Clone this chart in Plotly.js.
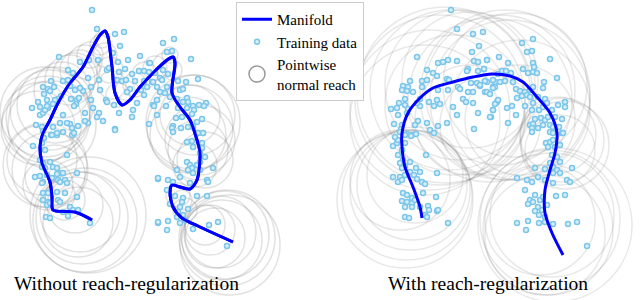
<!DOCTYPE html>
<html>
<head>
<meta charset="utf-8">
<script src="https://cdn.plot.ly/plotly-3.0.1.min.js"></script>
<style>html,body{margin:0;padding:0;background:#fff;}#chart{width:640px;height:300px;}</style>
</head>
<body>
<div id="chart"></div>
<script>
// ---- data (image-space units: x right, y down) ----
const leftManifold = [[92,220],[75,212],[53,210],[52,197],[50,182],[42,163],[40,147],[43,133],[50,120],[58,103],[70,83],[83,67],[93,47],[100,35],[105,31],[108,37],[112,67],[115,93],[122,105],[130,100],[140,87],[153,73],[167,60],[173,57],[175,63],[172,93],[180,107],[190,120],[197,140],[200,153],[197,180],[190,189],[180,187],[172,185],[170,193],[173,207],[182,218],[200,227],[233,242]];

const rightManifold = [[422,218],[420,207],[413,187],[405,167],[402,147],[402,133],[408,113],[420,98],[433,88],[453,82],[473,77],[492,74],[510,76],[523,82],[537,97],[550,113],[557,133],[555,153],[550,170],[545,190],[545,213],[552,233],[563,255]];

const leftTrain = [[92,10],[97,29],[115,34],[124,32],[120,46],[59,57],[113,53],[118,62],[128,60],[140,56],[149,63],[80,62],[98,60],[89,60],[68,70],[73,73],[63,81],[68,80],[51,81],[43,87],[48,89],[54,87],[50,91],[44,94],[61,96],[75,90],[83,91],[88,78],[91,87],[99,80],[100,90],[107,70],[109,68],[119,72],[125,69],[117,80],[122,81],[126,80],[135,81],[132,74],[139,71],[144,71],[149,72],[155,73],[144,81],[152,82],[147,87],[141,90],[130,89],[127,92],[144,95],[157,100],[153,105],[137,103],[133,110],[119,113],[132,117],[149,124],[114,105],[106,100],[107,102],[93,108],[99,113],[97,117],[85,113],[88,123],[78,126],[115,129],[91,100],[77,100],[76,104],[74,106],[71,99],[79,98],[70,124],[67,123],[72,128],[60,123],[58,99],[55,100],[53,104],[48,108],[47,100],[38,102],[40,107],[32,108],[40,115],[43,113],[45,110],[47,106],[36,125],[42,127],[43,131],[53,127],[51,135],[63,115],[63,132],[57,135],[72,135],[85,121],[103,121],[80,88],[70,86],
[163,43],[174,39],[167,52],[172,51],[191,59],[150,63],[163,70],[168,74],[160,78],[153,82],[162,80],[157,87],[167,87],[178,81],[186,82],[198,79],[180,90],[183,89],[160,92],[165,93],[157,100],[170,97],[177,99],[187,98],[188,102],[183,102],[166,106],[154,106],[193,106],[199,105],[206,103],[204,106],[194,110],[187,108],[178,108],[157,115],[176,118],[182,117],[192,114],[202,119],[173,126],[172,128],[181,128],[203,133],[197,122],[193,127],[188,127],[198,133],
[52,135],[57,133],[74,133],[115,130],[33,146],[42,143],[44,138],[45,150],[67,155],[40,160],[43,163],[50,162],[42,167],[45,168],[53,167],[57,168],[60,173],[63,173],[57,174],[35,177],[40,176],[47,175],[52,178],[43,182],[42,183],[58,180],[60,182],[65,180],[67,183],[77,173],[43,193],[48,193],[57,192],[65,193],[43,200],[48,202],[47,205],[50,203],[58,200],[60,202],[77,197],[70,207],[73,210],[78,210],[63,212],[68,216],[46,217],[50,218],[90,223],[158,179],[158,223],
[173,132],[187,142],[192,141],[202,143],[203,133],[198,133],[193,147],[202,148],[200,153],[205,157],[187,162],[190,165],[192,168],[188,170],[197,165],[200,162],[200,170],[193,173],[177,170],[213,168],[158,178],[168,180],[173,182],[180,177],[207,180],[208,182],[190,183],[167,190],[175,196],[183,198],[182,202],[197,196],[207,196],[170,204],[180,207],[178,212],[188,209],[183,215],[177,217],[158,222],[168,221],[180,223],[185,220],[209,225],[218,222],[167,230],[193,229],[227,246]];

const rightTrain = [[451,10],[457,29],[473,34],[483,32],[479,46],[417,57],[438,63],[443,62],[448,60],[457,61],[472,52],[474,61],[478,62],[487,60],[468,69],[467,71],[478,71],[484,69],[427,70],[433,73],[437,76],[447,79],[449,80],[410,81],[422,81],[427,80],[422,87],[403,86],[408,87],[407,91],[402,90],[413,92],[458,87],[460,89],[471,83],[477,83],[480,86],[487,82],[495,82],[493,87],[468,92],[473,92],[485,92],[448,90],[438,90],[420,99],[405,99],[429,102],[437,100],[440,104],[434,106],[420,106],[417,103],[405,105],[399,103],[397,108],[391,109],[408,109],[407,113],[398,115],[453,107],[457,115],[463,99],[466,102],[473,103],[478,113],[491,117],[493,110],[497,102],[447,123],[438,126],[427,123],[418,121],[415,125],[430,130],[394,124],[402,125],[401,129],[407,134],[412,135],[474,129],
[522,43],[533,39],[527,52],[532,51],[499,57],[550,59],[487,60],[508,63],[484,69],[502,71],[506,71],[511,73],[523,69],[528,73],[533,72],[537,73],[533,63],[534,67],[498,74],[493,80],[500,82],[505,81],[513,82],[485,81],[480,85],[495,87],[493,88],[516,89],[520,91],[525,92],[530,90],[533,87],[543,88],[544,82],[557,78],[487,92],[490,94],[522,96],[527,95],[530,97],[517,98],[498,100],[538,97],[545,99],[547,103],[533,103],[525,106],[512,106],[495,104],[493,110],[507,108],[532,110],[539,110],[543,107],[552,110],[558,105],[565,102],[565,107],[555,117],[562,119],[535,119],[541,118],[545,120],[548,117],[490,117],[516,115],[530,125],[533,124],[538,128],[532,128],[543,125],[550,125],[553,127],[559,127],[550,132],[554,132],[562,133],[508,123],
[393,146],[397,143],[398,140],[405,143],[402,150],[398,155],[403,160],[400,163],[405,166],[402,168],[410,162],[416,168],[420,172],[410,172],[414,175],[405,175],[400,177],[393,177],[398,182],[402,180],[417,179],[422,182],[425,184],[437,173],[426,155],[411,136],[416,134],[434,133],[400,132],[405,135],[395,137],[403,193],[407,195],[412,198],[402,201],[407,202],[412,203],[415,200],[423,193],[436,197],[405,207],[412,207],[420,207],[428,206],[429,210],[437,211],[438,210],[425,215],[427,217],[405,217],[409,218],[448,223],
[532,132],[553,133],[563,133],[546,143],[550,142],[553,140],[548,147],[555,147],[560,145],[552,155],[557,157],[560,162],[550,163],[553,167],[557,170],[560,173],[553,173],[545,169],[535,168],[572,168],[517,178],[527,180],[532,182],[538,177],[545,180],[553,183],[567,180],[570,182],[525,190],[535,195],[540,200],[543,197],[556,196],[565,195],[530,200],[533,202],[528,204],[538,207],[542,210],[535,211],[547,205],[545,217],[539,215],[517,223],[528,221],[539,223],[545,222],[553,224],[568,224],[577,222],[526,230],[587,246]];

// pointwise normal reach circles: [cx, cy, r]
const leftReach = [[45,112,45],[48,118,42],[50,110,40],[42,122,40],[55,105,38],[38,128,37],[52,125,44],
[45,165,42],[50,170,38],[42,160,35],[55,175,30],[48,185,25],
[88,215,58],[85,220,52],[82,218,46],[80,212,40],[78,222,35],[75,205,28],[65,200,20],[60,195,15],
[70,80,25],[75,75,22],[80,70,20],[85,62,17],[62,90,28],[90,55,13],
[100,45,10],[105,55,12],[110,70,13],[112,85,14],[118,95,12],[125,90,10],[135,85,12],[145,75,13],[155,68,12],[165,65,12],[172,70,10],[170,55,8],[102,40,8],
[193,122,47],[190,128,43],[195,115,40],[188,135,38],[200,140,35],[198,150,30],[205,160,28],[195,165,22],[190,115,30],
[178,195,12],[182,200,10],[185,210,12],
[227,238,48],[225,235,44],[222,240,40],[220,232,36],[215,238,30],[210,230,25],[205,225,20],[230,245,50]];

const rightReach = [[440,100,85],[445,95,88],[430,110,80],[425,120,75],[450,90,80],[460,85,75],[470,80,68],[455,105,70],
[505,95,85],[510,100,80],[500,90,75],[520,110,70],[515,85,72],[490,100,82],
[407,195,65],[410,190,60],[405,200,68],[412,185,55],[400,180,50],[415,175,48],
[562,140,42],[558,135,38],[565,145,44],[560,150,35],
[555,225,77],[550,220,70],[548,230,65],[545,235,60],[552,215,62],[540,220,55],
[470,120,55],[490,125,50],[520,120,55]];

const panelTitles = ["Without reach-regularization", "With reach-regularization"];
const legendNames = ["Manifold", "Training data", "Pointwise<br>normal reach"];

// ---- build ----
const xs = a => a.map(p => p[0]);
const ys = a => a.map(p => p[1]);
const blue = '#0000ff';
const serif = 'Liberation Serif, Times New Roman, serif';
const dotStyle = {size: 5, color: '#d8effa', line: {color: '#7cc6ea', width: 1.5}};

const traces = [
  {x: xs(leftManifold), y: ys(leftManifold), xaxis: 'x', yaxis: 'y', mode: 'lines',
   line: {color: blue, width: 3, shape: 'spline', smoothing: 0.8}, name: legendNames[0], showlegend: true},
  {x: xs(leftTrain), y: ys(leftTrain), xaxis: 'x', yaxis: 'y', mode: 'markers',
   marker: dotStyle, name: legendNames[1], showlegend: true},
  {x: [null], y: [null], xaxis: 'x', yaxis: 'y', mode: 'markers',
   marker: {symbol: 'circle-open', size: 16, color: '#999', line: {width: 1.5}}, name: legendNames[2], showlegend: true},
  {x: xs(rightTrain), y: ys(rightTrain), xaxis: 'x2', yaxis: 'y2', mode: 'markers',
   marker: dotStyle, showlegend: false},
  {x: xs(rightManifold), y: ys(rightManifold), xaxis: 'x2', yaxis: 'y2', mode: 'lines',
   line: {color: blue, width: 3, shape: 'spline', smoothing: 0.8}, showlegend: false}
];
// redraw left manifold above the left points
traces.push(Object.assign({}, traces[0], {showlegend: false}));

const shapes = [];
function addCircles(list, xref, yref, alpha) {
  list.forEach(c => shapes.push({type: 'circle', xref: xref, yref: yref, layer: 'below',
    x0: c[0] - c[2], x1: c[0] + c[2], y0: c[1] - c[2], y1: c[1] + c[2],
    line: {color: 'rgba(110,110,110,' + alpha + ')', width: 1.5}, fillcolor: 'rgba(0,0,0,0)'}));
}
addCircles(leftReach, 'x', 'y', 0.2);
addCircles(rightReach, 'x2', 'y2', 0.16);

const ax = {visible: false, showgrid: false, zeroline: false, fixedrange: true};
const layout = {
  width: 640, height: 300,
  margin: {l: 0, r: 0, t: 0, b: 0},
  paper_bgcolor: '#fff', plot_bgcolor: '#fff',
  xaxis: Object.assign({}, ax, {domain: [0, 0.5], range: [0, 320]}),
  yaxis: Object.assign({}, ax, {domain: [0, 1], range: [300, 0]}),
  xaxis2: Object.assign({}, ax, {domain: [0.5, 1], range: [320, 640]}),
  yaxis2: Object.assign({}, ax, {domain: [0, 1], range: [300, 0], anchor: 'x2'}),
  shapes: shapes,
  showlegend: true,
  legend: {x: 236/640, y: 1 - 2/300, xanchor: 'left', yanchor: 'top',
    bgcolor: '#fff', bordercolor: '#cccccc', borderwidth: 1,
    font: {family: serif, size: 15, color: '#000'},
    tracegroupgap: 0, itemwidth: 30},
  annotations: [
    {text: panelTitles[0], xref: 'paper', yref: 'paper', x: 126/640, y: 1 - 283/300,
     xanchor: 'center', yanchor: 'middle',
     showarrow: false, font: {family: serif, size: 19.5, color: '#000'}},
    {text: panelTitles[1], xref: 'paper', yref: 'paper', x: 488/640, y: 1 - 283/300,
     xanchor: 'center', yanchor: 'middle',
     showarrow: false, font: {family: serif, size: 19.5, color: '#000'}}
  ]
};
Plotly.newPlot('chart', traces, layout, {displayModeBar: false, staticPlot: true});
</script>
</body>
</html>
